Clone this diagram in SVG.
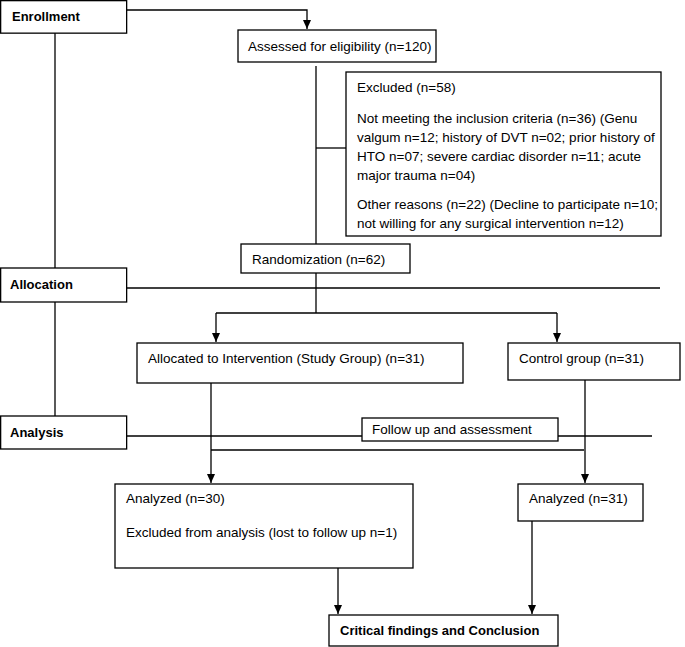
<svg xmlns="http://www.w3.org/2000/svg" width="685" height="647" viewBox="0 0 685 647">
<defs>
<marker id="ah" markerWidth="10" markerHeight="10" refX="9" refY="5" orient="auto" markerUnits="userSpaceOnUse">
<path d="M0,1 L9,5 L0,9 Z" fill="#000"/>
</marker>
<style>
rect{fill:#fff;stroke:#000;stroke-width:1.3}
text{font-family:"Liberation Sans",Arial,sans-serif;font-size:13.5px;fill:#000}
.b{font-weight:bold;font-size:13px}
.c{fill:none;stroke:#000;stroke-width:1.3}
.a{marker-end:url(#ah)}
</style>
</defs>
<g id="connectors">
<path class="c a" d="M127,10 H307 V29"/>
<path class="c" d="M55,33 V268"/>
<path class="c" d="M55,302 V416"/>
<path class="c" d="M316,66 V244"/>
<path class="c" d="M316,148 H346"/>
<path class="c" d="M127,288 H660"/>
<path class="c" d="M316,273 V313"/>
<path class="c" d="M216,313 H557"/>
<path class="c a" d="M216,313 V342"/>
<path class="c a" d="M557,313 V342"/>
<path class="c" d="M127,436 H652"/>
<path class="c a" d="M211,383 V483"/>
<path class="c a" d="M585,380 V483"/>
<path class="c" d="M211,450 H584"/>
<path class="c a" d="M338,568 V614"/>
<path class="c a" d="M532,521 V614"/>
</g>
<g id="enrollment"><rect x="0.65" y="0.65" width="126" height="32.5"/><text class="b" x="12" y="21">Enrollment</text></g>
<g id="assessed"><rect x="238" y="30" width="198" height="32"/><text x="248" y="51">Assessed for eligibility (n=120)</text></g>
<g id="excluded"><rect x="346" y="72" width="315" height="164"/>
<text x="357" y="92">Excluded (n=58)</text>
<text x="357" y="123">Not meeting the inclusion criteria (n=36) (Genu</text>
<text x="357" y="142">valgum n=12; history of DVT n=02; prior history of</text>
<text x="357" y="161">HTO n=07; severe cardiac disorder n=11; acute</text>
<text x="357" y="180">major trauma n=04)</text>
<text x="357" y="209">Other reasons (n=22) (Decline to participate n=10;</text>
<text x="357" y="228">not willing for any surgical intervention n=12)</text>
</g>
<g id="randomization"><rect x="241" y="244" width="169" height="29"/><text x="252" y="264">Randomization (n=62)</text></g>
<g id="allocation"><rect x="0.65" y="268" width="126" height="34"/><text class="b" x="10" y="289">Allocation</text></g>
<g id="study"><rect x="137" y="343" width="326" height="40"/><text x="148" y="363">Allocated to Intervention (Study Group) (n=31)</text></g>
<g id="control"><rect x="508" y="343" width="172" height="37"/><text x="519" y="363">Control group (n=31)</text></g>
<g id="analysis"><rect x="0.65" y="416" width="126" height="33"/><text class="b" x="10" y="437">Analysis</text></g>
<g id="followup"><rect x="362" y="418" width="196" height="23"/><text x="372" y="434">Follow up and assessment</text></g>
<g id="analyzed30"><rect x="115" y="484" width="298" height="84"/>
<text x="126" y="503">Analyzed (n=30)</text>
<text x="126" y="537">Excluded from analysis (lost to follow up n=1)</text>
</g>
<g id="analyzed31"><rect x="518" y="484" width="125" height="37"/><text x="529" y="503">Analyzed (n=31)</text></g>
<g id="conclusion"><rect x="329" y="615" width="229" height="31"/><text class="b" x="340" y="635">Critical findings and Conclusion</text></g>
</svg>
